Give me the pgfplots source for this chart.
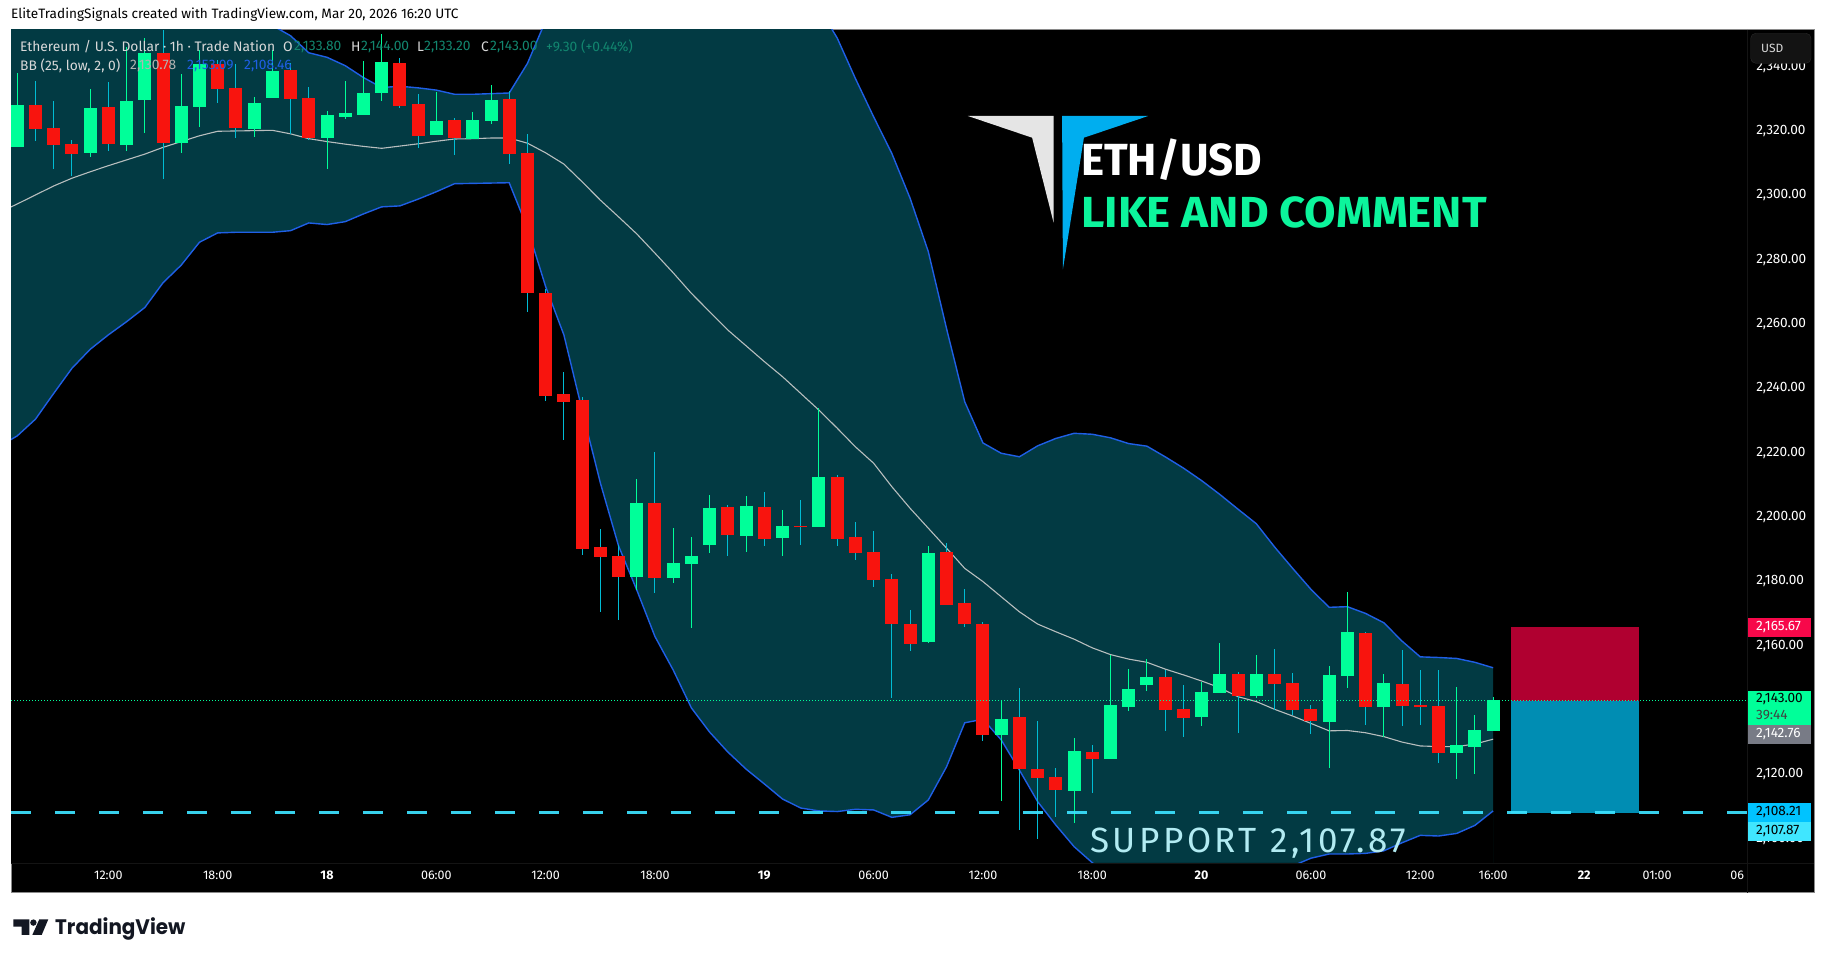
\documentclass[border=0pt]{standalone}
\usepackage{fontspec}
\usepackage{pgfplots}
\usepackage{pgfplotstable}
\pgfplotsset{compat=1.18}
\setmainfont{Fira Sans}
\newfontfamily\supfont[LetterSpace=10]{Fira Sans}
\newfontfamily\tvfont{Poppins}
\definecolor{bandfill}{HTML}{023A43}
\definecolor{bandline}{HTML}{1F5FE6}
\definecolor{upc}{HTML}{00FF99}
\definecolor{dnc}{HTML}{F8140E}
\definecolor{wickdn}{HTML}{00BCD4}
\definecolor{basisc}{HTML}{B8BEBE}
\definecolor{supc}{HTML}{3CE2FF}
\definecolor{legteal}{HTML}{12866F}
\definecolor{legblue}{HTML}{1F5FE6}
\definecolor{framec}{HTML}{8A8A8A}
\definecolor{rrred}{HTML}{B00030}
\definecolor{rrblue}{HTML}{008DB3}
\definecolor{logoblue}{HTML}{00AEEF}
\definecolor{likec}{HTML}{0CF59C}
\definecolor{supt}{HTML}{B2EBF2}
\definecolor{usdbg}{HTML}{131313}
\definecolor{usdln}{HTML}{2A2A2A}
\definecolor{tagred}{HTML}{F7084A}
\definecolor{taggrey}{HTML}{787B86}
\definecolor{tagblue}{HTML}{00C3FF}
\definecolor{tagcyan}{HTML}{40E6FF}
\definecolor{tvink}{HTML}{131722}
\pgfplotstableread{
i upper lower basis
-1 2370 2221.6 2294.3
0 2365 2224.9 2297
1 2365 2230.1 2299.8
2 2365 2238.1 2302.6
3 2365 2245.9 2305
4 2365 2251.8 2307
5 2365 2256.3 2308.9
6 2365 2260.4 2310.7
7 2365 2264.8 2312.5
8 2365 2272.5 2314.6
9 2365 2278 2316.4
10 2365 2285.1 2318.2
11 2365 2288 2319.6
12 2362 2288.2 2319.7
13 2357 2288.2 2319.8
14 2352.5 2288.2 2319.9
15 2349.3 2288.7 2318.8
16 2344 2291.1 2317.3
17 2342.6 2290.6 2316.4
18 2340 2291.5 2315.6
19 2336.3 2293.9 2314.9
20 2333.2 2296.1 2314.3
21 2333.6 2296.4 2315
22 2333.1 2298.5 2315.7
23 2332.4 2300.8 2316.5
24 2331.1 2303.3 2317.2
25 2331.1 2303.4 2317.3
26 2331.3 2303.5 2317.5
27 2331.5 2303.6 2317.5
28 2340.7 2289.5 2315.9
29 2354 2271.3 2312.9
30 2372 2256.3 2309.4
31 2390 2232.9 2303.9
32 2403 2210.3 2298.2
33 2412 2190.7 2293
34 2415 2177 2287.7
35 2415 2162.5 2281.7
36 2415 2152.1 2275.6
37 2415 2140.3 2269.2
38 2415 2132.8 2263.5
39 2412 2126.6 2257.8
40 2408 2121.3 2252.9
41 2402 2116.7 2248
42 2392 2112 2243.3
43 2375 2109.2 2238.1
44 2358 2108.3 2232.9
45 2348.6 2108.1 2227.3
46 2336 2108.8 2221.5
47 2324.1 2108.6 2216.4
48 2312.7 2106.3 2209.1
49 2298.8 2107.1 2202.4
50 2282.2 2111.7 2196.2
51 2258.3 2122 2190
52 2235.5 2135.7 2183.7
53 2222.7 2136.8 2179.6
54 2219.5 2130.4 2174.9
55 2218.4 2121 2170.2
56 2221.8 2111.2 2166.4
57 2224.1 2103.9 2164
58 2225.7 2097.2 2161.7
59 2225.4 2092.2 2159
60 2224.3 2088 2156.9
61 2222.5 2085 2155.5
62 2221.7 2083 2154.5
63 2218.4 2082 2152.4
64 2214.9 2082 2150.6
65 2211 2083 2148.7
66 2206.7 2084 2146.6
67 2202.1 2086 2143.8
68 2197.6 2088 2142.3
69 2190.4 2089.5 2139.9
70 2183.7 2091.2 2137.8
71 2177.2 2093.6 2135.5
72 2171.6 2094.9 2133.2
73 2171.8 2094.9 2133.3
74 2169.7 2095.1 2132.6
75 2166.8 2095.9 2131.4
76 2161.1 2098.4 2129.7
77 2156.2 2100.7 2128.5
78 2156 2100.5 2128.3
79 2155.7 2101.3 2128.3
80 2154.5 2103.8 2129.1
81 2152.8 2108.3 2130.6
}\bandtable
\pgfplotstableread{
i bot top low high
0 2314.8 2327.8 2314.8 2337.6
4 2312.8 2326.8 2311.7 2332.7
6 2315.3 2329 2313.5 2345.9
7 2329.3 2343.9 2319.2 2348.5
9 2316 2327.5 2312.8 2337.4
10 2327.2 2340.5 2320.9 2344.9
13 2320.3 2328.4 2317.8 2330.3
14 2329.9 2338.3 2329.9 2344.9
17 2317.5 2324.7 2307.9 2325.9
18 2324 2325.3 2323.4 2335.2
19 2324.7 2331.5 2324.7 2341.5
20 2331.5 2341.1 2329 2349.8
23 2318.4 2322.8 2318.4 2331.8
25 2317.2 2323.1 2317.2 2325.6
26 2322.8 2329.3 2321.9 2334
34 2181 2204 2177 2211.5
36 2180.7 2185.4 2179.2 2196.3
37 2185.1 2187.6 2165.2 2193.4
38 2191 2202.5 2188.5 2206.5
40 2193.8 2203.1 2188.8 2206.2
42 2193.2 2196.9 2187.6 2201.9
44 2196.6 2212.1 2196.6 2233.6
50 2160.8 2188.5 2160.4 2190.7
54 2131.9 2136.9 2111.4 2142.8
58 2114.5 2126.9 2104.5 2131
60 2124.4 2141.2 2124.4 2156.8
61 2140.6 2146.2 2139.4 2152.4
62 2147.5 2149.9 2145.6 2155.5
65 2137.5 2145.3 2134.7 2148.3
66 2145 2150.9 2145 2160.5
68 2144 2150.9 2143.4 2156.8
72 2136 2150.6 2121.6 2153.4
73 2150.2 2163.9 2146.5 2176.4
75 2140.6 2148.1 2131.3 2150.9
79 2126.3 2128.8 2118.2 2146.8
80 2128.2 2133.5 2119.8 2138.1
81 2133.2 2142.8 2133.2 2143.8
}\greentable
\pgfplotstableread{
i bot top low high
1 2320.3 2327.8 2316.7 2335.2
2 2315.3 2320.6 2307.9 2329
3 2312.5 2315.6 2305.8 2316.9
5 2315.6 2327.2 2313.5 2334.9
8 2316 2343.9 2304.8 2351
11 2332.7 2340.5 2328.4 2341.8
12 2320.6 2333.1 2317.5 2340.5
15 2329.6 2338.7 2318.8 2340.7
16 2317.5 2329.9 2316.9 2333.4
21 2327.5 2340.8 2326.8 2342.4
22 2318.1 2328.1 2314.4 2331.2
24 2317.5 2323.1 2312.2 2323.7
27 2312.5 2329.6 2309.4 2332.1
28 2269.3 2312.85 2263.4 2318.8
29 2237.3 2269.3 2235.8 2270.5
30 2235.4 2237.9 2223.6 2244.8
31 2189.7 2236.1 2187.9 2236.9
32 2187.3 2190.4 2170.2 2196
33 2181 2187.6 2167.7 2191
35 2180.7 2204 2176 2219.9
39 2194.1 2202.8 2187.6 2203.4
41 2192.9 2202.8 2190.7 2207.5
43 2196.6 2196.9 2190.9 2205
45 2192.9 2212.1 2190.7 2212.7
46 2188.5 2193.5 2186.3 2198.1
47 2180.1 2188.8 2177.9 2195.3
48 2166.5 2180.4 2143.3 2182
49 2160.2 2166.4 2158 2170.8
51 2172.3 2188.8 2172.3 2191.5
52 2166.4 2172.9 2165.5 2177.3
53 2131.9 2166.4 2130 2167
55 2121.3 2137.5 2102.4 2146.5
56 2118.5 2121.3 2099.6 2136.3
57 2114.8 2118.8 2106.4 2121.6
59 2124.4 2126.6 2113.9 2128.8
63 2139.7 2149.9 2133.2 2152.1
64 2137.2 2140 2131.3 2147.5
67 2144 2150.9 2132.5 2151.5
69 2147.8 2150.9 2139.7 2158.6
70 2139.7 2148.1 2138.1 2151.2
71 2136.3 2140 2132.2 2141.2
74 2140.6 2163.6 2135 2163.9
76 2140.9 2147.8 2134.7 2158.3
77 2140.6 2141.2 2135 2152.1
78 2126.3 2140.9 2123.2 2152.1
}\redtable
\newcommand{\fs}[1]{\fontsize{#1}{#1}\selectfont}
\begin{document}
\begin{tikzpicture}
\begin{scope}[x=1pt,y=1pt]
\fill[white] (0,0) rectangle (1826,960);
\fill[black] (11,67) rectangle (1814,930);
\draw[framec,line width=1pt] (11,67) rectangle (1814,930);
\end{scope}
\begin{axis}[
  at={(11pt,97pt)},anchor=south west,
  scale only axis,width=1736pt,height=833pt,
  xmin=-0.3436,xmax=94.936,ymin=2092.11,ymax=2351.09,
  axis line style={draw=none},
  tick style={draw=none},
  major tick length=0pt,
  xtick={5,11,17,23,29,35,41,47,53,59,65,71,77,81,86,90,94.4},
  xticklabels={12:00,18:00,\textbf{18},06:00,12:00,18:00,\textbf{19},06:00,12:00,18:00,\textbf{20},06:00,12:00,16:00,\textbf{22},01:00,06},
  ytick={2100,2120,2140,2160,2180,2200,2220,2240,2260,2280,2300,2320,2340},
  yticklabels={{2,100.00},{2,120.00},{2,140.00},{2,160.00},{2,180.00},{2,200.00},{2,220.00},{2,240.00},{2,260.00},{2,280.00},{2,300.00},{2,320.00},{2,340.00}},
  yticklabel pos=right,
  x tick label style={text=white,font=\fs{12.5},anchor=north,inner sep=0pt,yshift=-8pt},
  y tick label style={text=white,font=\fs{13.6},anchor=west,inner sep=0pt,xshift=9pt,yshift=-1pt},
]
% band: area under the upper curve in teal, then area under the lower curve back to black
\addplot[fill=bandfill,draw=none,forget plot] table[x=i,y=upper]{\bandtable} \closedcycle;
\addplot[fill=black,draw=none,forget plot] table[x=i,y=lower]{\bandtable} \closedcycle;
\addplot[bandline,line width=1.4pt,forget plot] table[x=i,y=upper]{\bandtable};
\addplot[bandline,line width=1.4pt,forget plot] table[x=i,y=lower]{\bandtable};
\addplot[basisc,line width=1.1pt,forget plot] table[x=i,y=basis]{\bandtable};
% position tool
\addplot[fill=rrred,draw=none,forget plot] coordinates {(81.98,2165.5)(89.01,2165.5)(89.01,2142.6)(81.98,2142.6)};
\addplot[fill=rrblue,draw=none,forget plot] coordinates {(81.98,2142.6)(89.01,2142.6)(89.01,2107.7)(81.98,2107.7)};
% wicks
\addplot[draw=none,no marks,forget plot,error bars/.cd,y dir=both,y explicit,error mark=none,error bar style={line width=1pt,draw=upc}]
  table[x=i,y=top,y error plus expr=\thisrow{high}-\thisrow{top},y error minus expr=\thisrow{top}-\thisrow{low}]{\greentable};
\addplot[draw=none,no marks,forget plot,error bars/.cd,y dir=both,y explicit,error mark=none,error bar style={line width=1pt,draw=wickdn}]
  table[x=i,y=top,y error plus expr=\thisrow{high}-\thisrow{top},y error minus expr=\thisrow{top}-\thisrow{low}]{\redtable};
% bodies
\addplot[draw=none,no marks,forget plot,error bars/.cd,y dir=minus,y explicit,error mark=none,error bar style={line width=13pt,draw=upc}]
  table[x=i,y=top,y error minus expr=\thisrow{top}-\thisrow{bot}]{\greentable};
\addplot[draw=none,no marks,forget plot,error bars/.cd,y dir=minus,y explicit,error mark=none,error bar style={line width=13pt,draw=dnc}]
  table[x=i,y=top,y error minus expr=\thisrow{top}-\thisrow{bot}]{\redtable};
% price lines
\addplot[upc,line width=0.9pt,dash pattern=on 1pt off 2pt,forget plot] coordinates {(-0.3436,2142.6)(94.936,2142.6)};
\addplot[supc,line width=3.3pt,opacity=0.92,dash pattern=on 20pt off 24pt,forget plot] coordinates {(-0.3436,2107.7)(94.936,2107.7)};
\end{axis}
% pixel-coordinate overlay (y downward)
\begin{scope}[x=1pt,y=-1pt,yshift=960pt,every node/.style={inner sep=0pt}]
\draw[black!92!white,line width=0.7pt] (1747,30) -- (1747,893);
\draw[black!92!white,line width=0.7pt] (11,863) -- (1814,863);
\node[anchor=west,text=black] at (11,14.5) {\fs{13.6}EliteTradingSignals created with TradingView.com, Mar 20, 2026 16:20 UTC};
% legend
\node[anchor=west,text=white!85!black] at (20,46.5) {\fs{13.8}Ethereum / U.S. Dollar · 1h · Trade Nation};
\node[anchor=west,text=white!85!black] at (283,46.5) {\fs{13.8}O};
\node[anchor=west,text=legteal] at (294,46.5) {\fs{13.8}2,133.80};
\node[anchor=west,text=white!85!black] at (351,46.5) {\fs{13.8}H};
\node[anchor=west,text=legteal] at (361,46.5) {\fs{13.8}2,144.00};
\node[anchor=west,text=white!85!black] at (417,46.5) {\fs{13.8}L};
\node[anchor=west,text=legteal] at (424,46.5) {\fs{13.8}2,133.20};
\node[anchor=west,text=white!85!black] at (481,46.5) {\fs{13.8}C};
\node[anchor=west,text=legteal] at (490,46.5) {\fs{13.8}2,143.00};
\node[anchor=west,text=legteal] at (546,46.5) {\fs{13.8}+9.30 (+0.44\%)};
\node[anchor=west,text=white!85!black] at (20,65.5) {\fs{13.8}BB (25, low, 2, 0)};
\node[anchor=west,text=white!70!black] at (130,65.5) {\fs{13.8}2,130.78};
\node[anchor=west,text=legblue] at (187,65.5) {\fs{13.8}2,153.09};
\node[anchor=west,text=legblue] at (244,65.5) {\fs{13.8}2,108.46};
% logo and captions
\fill[white!90!black] (967.9,116) -- (1053.6,116) -- (1053.6,222.7) -- (1032.1,137.7) -- cycle;
\fill[logoblue] (1062.1,116) -- (1148.2,116) -- (1083.9,137.7) -- (1062.9,269.3) -- cycle;
\node[anchor=base west,text=white] at (1081,176) {\scalebox{0.975}[1]{\fs{45}\bfseries ETH/USD}};
\node[anchor=base west,text=likec] at (1081,227.7) {\scalebox{1.05}[1]{\fs{43.5}\bfseries LIKE AND COMMENT}};
\node[anchor=base west,text=supt] at (1090,853) {\supfont\fs{35}SUPPORT\hspace{1pt} 2,107.87};
% USD box
\draw[fill=usdbg,draw=usdln,rounded corners=5pt] (1750.7,33.3) rectangle (1811,63.3);
\node[anchor=west,text=white!85!black] at (1761,48.5) {\fs{12}USD};
% price tags
\fill[tagred] (1748,618) rectangle (1811,636.7);
\node[anchor=west,text=white] at (1756,627.5) {\fs{13.6}2,165.67};
\fill[upc] (1748,691) rectangle (1811,725);
\node[anchor=west,text=black] at (1756,699.5) {\fs{13.6}2,143.00};
\node[anchor=west,text=black!75!white] at (1756,715) {\fs{13.6}39:44};
\fill[taggrey] (1748,725) rectangle (1811,744);
\node[anchor=west,text=white] at (1756,734) {\fs{13.6}2,142.76};
\fill[tagblue] (1748,803) rectangle (1811,822);
\node[anchor=west,text=black] at (1756,812) {\fs{13.6}2,108.21};
\fill[tagcyan] (1748,822) rectangle (1811,840.7);
\node[anchor=west,text=black] at (1756,831) {\fs{13.6}2,107.87};
% TradingView logo
\fill[tvink] (13.3,919.3) -- (29.3,919.3) -- (29.3,935) -- (21.7,935) -- (21.7,926.7) -- (13.3,926.7) -- cycle;
\fill[tvink] (33.4,922.6) circle (3.2pt);
\fill[tvink] (39.3,919.3) -- (48.3,919.3) -- (41.7,935) -- (32.3,935) -- cycle;
\node[anchor=base west,text=tvink] at (55,935) {\scalebox{0.95}[1]{\tvfont\fs{21}\bfseries TradingView}};
\end{scope}
\end{tikzpicture}
\end{document}
